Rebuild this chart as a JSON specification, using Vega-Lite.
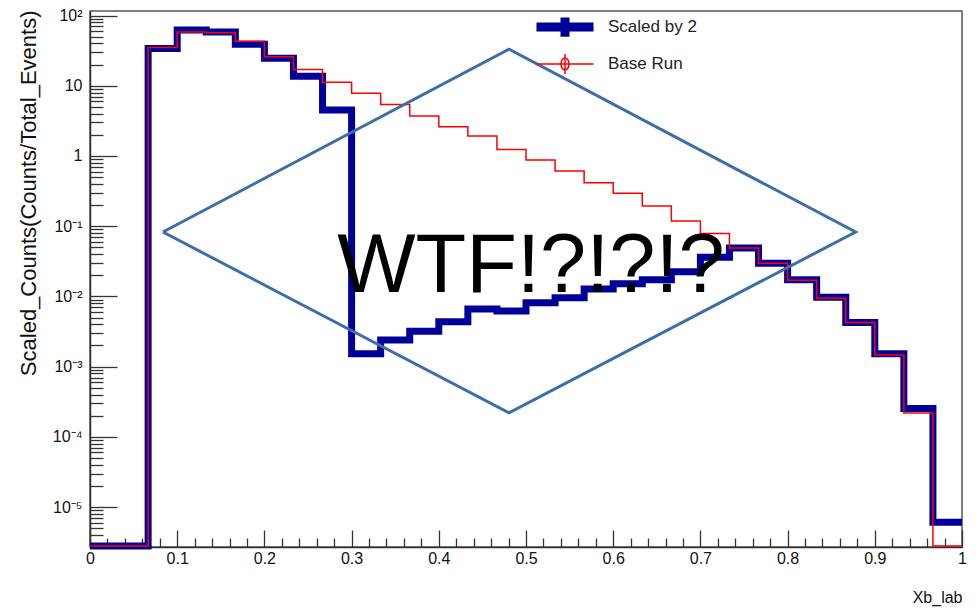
{
  "$schema": "https://vega.github.io/schema/vega-lite/v6.json",
  "width": 872,
  "height": 536,
  "autosize": {"type": "none"},
  "padding": {"left": 90, "top": 11, "right": 18, "bottom": 66},
  "background": "white",
  "config": {
    "view": {"stroke": "#555", "strokeWidth": 1.5},
    "axis": {
      "grid": false,
      "labelFont": "Liberation Sans",
      "labelFontSize": 16,
      "labelColor": "#111",
      "tickColor": "#333",
      "tickWidth": 1.3,
      "domainColor": "#333",
      "domainWidth": 1.5,
      "titleFontWeight": "normal",
      "titleColor": "#111"
    }
  },
  "datasets": {
    "hist": [
      {"x": 0, "value": 2.8e-6, "series": "Scaled by 2"},
      {"x": 0.03333, "value": 2.8e-6, "series": "Scaled by 2"},
      {"x": 0.06667, "value": 34, "series": "Scaled by 2"},
      {"x": 0.1, "value": 62, "series": "Scaled by 2"},
      {"x": 0.13333, "value": 58.5, "series": "Scaled by 2"},
      {"x": 0.16667, "value": 39, "series": "Scaled by 2"},
      {"x": 0.2, "value": 24.7, "series": "Scaled by 2"},
      {"x": 0.23333, "value": 13.7, "series": "Scaled by 2"},
      {"x": 0.26667, "value": 4.5, "series": "Scaled by 2"},
      {"x": 0.3, "value": 0.00152, "series": "Scaled by 2"},
      {"x": 0.33333, "value": 0.0024, "series": "Scaled by 2"},
      {"x": 0.36667, "value": 0.0032, "series": "Scaled by 2"},
      {"x": 0.4, "value": 0.00434, "series": "Scaled by 2"},
      {"x": 0.43333, "value": 0.0066, "series": "Scaled by 2"},
      {"x": 0.46667, "value": 0.0062, "series": "Scaled by 2"},
      {"x": 0.5, "value": 0.0081, "series": "Scaled by 2"},
      {"x": 0.53333, "value": 0.0096, "series": "Scaled by 2"},
      {"x": 0.56667, "value": 0.0128, "series": "Scaled by 2"},
      {"x": 0.6, "value": 0.0151, "series": "Scaled by 2"},
      {"x": 0.63333, "value": 0.0173, "series": "Scaled by 2"},
      {"x": 0.66667, "value": 0.0225, "series": "Scaled by 2"},
      {"x": 0.7, "value": 0.0361, "series": "Scaled by 2"},
      {"x": 0.73333, "value": 0.049, "series": "Scaled by 2"},
      {"x": 0.76667, "value": 0.0297, "series": "Scaled by 2"},
      {"x": 0.8, "value": 0.0172, "series": "Scaled by 2"},
      {"x": 0.83333, "value": 0.00975, "series": "Scaled by 2"},
      {"x": 0.86667, "value": 0.00424, "series": "Scaled by 2"},
      {"x": 0.9, "value": 0.00152, "series": "Scaled by 2"},
      {"x": 0.93333, "value": 0.000254, "series": "Scaled by 2"},
      {"x": 0.96667, "value": 6.1e-6, "series": "Scaled by 2"},
      {"x": 1, "value": 6.1e-6, "series": "Scaled by 2"},
      {"x": 0, "value": 2.8e-6, "series": "Base Run"},
      {"x": 0.03333, "value": 2.8e-6, "series": "Base Run"},
      {"x": 0.06667, "value": 35, "series": "Base Run"},
      {"x": 0.1, "value": 58.5, "series": "Base Run"},
      {"x": 0.13333, "value": 57, "series": "Base Run"},
      {"x": 0.16667, "value": 43, "series": "Base Run"},
      {"x": 0.2, "value": 25.8, "series": "Base Run"},
      {"x": 0.23333, "value": 17.1, "series": "Base Run"},
      {"x": 0.26667, "value": 11.2, "series": "Base Run"},
      {"x": 0.3, "value": 7.8, "series": "Base Run"},
      {"x": 0.33333, "value": 5.4, "series": "Base Run"},
      {"x": 0.36667, "value": 3.7, "series": "Base Run"},
      {"x": 0.4, "value": 2.6, "series": "Base Run"},
      {"x": 0.43333, "value": 1.92, "series": "Base Run"},
      {"x": 0.46667, "value": 1.24, "series": "Base Run"},
      {"x": 0.5, "value": 0.875, "series": "Base Run"},
      {"x": 0.53333, "value": 0.61, "series": "Base Run"},
      {"x": 0.56667, "value": 0.416, "series": "Base Run"},
      {"x": 0.6, "value": 0.294, "series": "Base Run"},
      {"x": 0.63333, "value": 0.194, "series": "Base Run"},
      {"x": 0.66667, "value": 0.119, "series": "Base Run"},
      {"x": 0.7, "value": 0.079, "series": "Base Run"},
      {"x": 0.73333, "value": 0.049, "series": "Base Run"},
      {"x": 0.76667, "value": 0.0297, "series": "Base Run"},
      {"x": 0.8, "value": 0.017, "series": "Base Run"},
      {"x": 0.83333, "value": 0.0094, "series": "Base Run"},
      {"x": 0.86667, "value": 0.00424, "series": "Base Run"},
      {"x": 0.9, "value": 0.00147, "series": "Base Run"},
      {"x": 0.93333, "value": 0.000218, "series": "Base Run"},
      {"x": 0.96667, "value": 2.8e-6, "series": "Base Run"},
      {"x": 1, "value": 2.8e-6, "series": "Base Run"}
    ],
    "diamond": [
      {"i": 0, "x": 0.0837, "y": 0.0826},
      {"i": 1, "x": 0.4805, "y": 33.2},
      {"i": 2, "x": 0.878, "y": 0.0826},
      {"i": 3, "x": 0.4805, "y": 0.00022},
      {"i": 4, "x": 0.0837, "y": 0.0826}
    ],
    "note": [
      {"x": 0.5057, "y": 0.0117, "label": "WTF!?!?!?"}
    ]
  },
  "resolve": {"axis": {"x": "independent", "y": "independent"}},
  "layer": [
    {
      "data": {"name": "hist"},
      "transform": [{"filter": "datum.series === 'Scaled by 2'"}],
      "mark": {"type": "line", "interpolate": "step-after", "strokeWidth": 7, "strokeJoin": "miter", "clip": false},
      "encoding": {
        "x": {
          "field": "x", "type": "quantitative",
          "scale": {"domain": [0, 1], "nice": false, "zero": false},
          "axis": {
            "orient": "bottom",
            "values": [0, 0.1, 0.2, 0.3, 0.4, 0.5, 0.6, 0.7, 0.8, 0.9, 1],
            "labelExpr": "datum.value === 0 ? '0' : datum.value === 1 ? '1' : format(datum.value, '.1f')",
            "tickSize": -17,
            "labelPadding": 20,
            "labelFlush": false,
            "title": "Xb_lab",
            "titleFont": "Liberation Sans",
            "titleFontSize": 16,
            "titleAlign": "right",
            "titleAnchor": "end",
            "titleX": 872,
            "titleY": 55,
            "titleBaseline": "alphabetic"
          }
        },
        "y": {
          "field": "value", "type": "quantitative",
          "scale": {"type": "log", "domain": [2.7e-6, 116], "nice": false, "zero": false},
          "axis": {
            "orient": "left",
            "values": [100, 10, 1, 0.1, 0.01, 0.001, 0.0001, 0.00001],
            "labelExpr": "datum.value > 50 ? '10²' : datum.value > 5 ? '10' : datum.value > 0.5 ? '1' : datum.value > 0.05 ? '10⁻¹' : datum.value > 0.005 ? '10⁻²' : datum.value > 0.0005 ? '10⁻³' : datum.value > 0.00005 ? '10⁻⁴' : '10⁻⁵'",
            "tickSize": -27,
            "labelPadding": 35,
            "title": "Scaled_Counts(Counts/Total_Events)",
            "titleFont": "Liberation Sans",
            "titleFontSize": 22,
            "titleAngle": 270,
            "titleAlign": "right",
            "titleX": -55,
            "titleY": -1,
            "titleBaseline": "alphabetic"
          }
        },
        "color": {
          "field": "series", "type": "nominal",
          "scale": {"domain": ["Scaled by 2", "Base Run"], "range": ["#000099", "#ff0000"]},
          "legend": {
            "orient": "none",
            "legendX": 466.5,
            "legendY": 7.5,
            "direction": "vertical",
            "title": null,
            "padding": 0,
            "rowPadding": -7,
            "symbolSize": 1225,
            "labelOffset": 34.5,
            "labelFont": "Liberation Sans",
            "labelFontSize": 17,
            "labelColor": "#222",
            "encode": {
              "symbols": {
                "update": {
                  "shape": {"signal": "datum.value === 'Scaled by 2' ? 'M-1.63,0H1.63M0,-0.55V0.55' : 'M-1.63,0H1.63M0,-0.57V0.57M0.23,0A0.23,0.34,0,1,1,-0.23,0A0.23,0.34,0,1,1,0.23,0'"},
                  "strokeWidth": {"signal": "datum.value === 'Scaled by 2' ? 9 : 1.5"},
                  "fill": {"value": "transparent"}
                }
              }
            }
          }
        }
      }
    },
    {
      "data": {"name": "hist"},
      "transform": [{"filter": "datum.series === 'Base Run'"}],
      "mark": {"type": "line", "interpolate": "step-after", "strokeWidth": 1.5, "clip": false},
      "encoding": {
        "x": {
          "field": "x", "type": "quantitative",
          "axis": {
            "orient": "bottom",
            "values": [0.02, 0.04, 0.06, 0.08, 0.12, 0.14, 0.16, 0.18, 0.22, 0.24, 0.26, 0.28, 0.32, 0.34, 0.36, 0.38, 0.42, 0.44, 0.46, 0.48, 0.52, 0.54, 0.56, 0.58, 0.62, 0.64, 0.66, 0.68, 0.72, 0.74, 0.76, 0.78, 0.82, 0.84, 0.86, 0.88, 0.92, 0.94, 0.96, 0.98],
            "tickSize": -9,
            "labels": false,
            "domain": false,
            "title": null
          }
        },
        "y": {
          "field": "value", "type": "quantitative",
          "axis": {
            "orient": "left",
            "values": [3e-6, 4e-6, 5e-6, 6e-6, 7e-6, 8e-6, 9e-6, 2e-5, 3e-5, 4e-5, 5e-5, 6e-5, 7e-5, 8e-5, 9e-5, 2e-4, 3e-4, 4e-4, 5e-4, 6e-4, 7e-4, 8e-4, 9e-4, 0.002, 0.003, 0.004, 0.005, 0.006, 0.007, 0.008, 0.009, 0.02, 0.03, 0.04, 0.05, 0.06, 0.07, 0.08, 0.09, 0.2, 0.3, 0.4, 0.5, 0.6, 0.7, 0.8, 0.9, 2, 3, 4, 5, 6, 7, 8, 9, 20, 30, 40, 50, 60, 70, 80, 90],
            "tickSize": -13,
            "labels": false,
            "domain": false,
            "title": null
          }
        },
        "color": {"field": "series", "type": "nominal"}
      }
    },
    {
      "data": {"name": "diamond"},
      "mark": {"type": "line", "color": "#3d6dab", "strokeWidth": 3, "strokeJoin": "miter", "clip": false},
      "encoding": {
        "x": {"field": "x", "type": "quantitative", "axis": null},
        "y": {"field": "y", "type": "quantitative", "axis": null},
        "order": {"field": "i", "type": "quantitative"}
      }
    },
    {
      "data": {"name": "note"},
      "mark": {"type": "text", "font": "Liberation Sans", "fontSize": 83, "color": "#000", "align": "center", "baseline": "alphabetic"},
      "encoding": {
        "x": {"field": "x", "type": "quantitative", "axis": null},
        "y": {"field": "y", "type": "quantitative", "axis": null},
        "text": {"field": "label", "type": "nominal"}
      }
    }
  ]
}
